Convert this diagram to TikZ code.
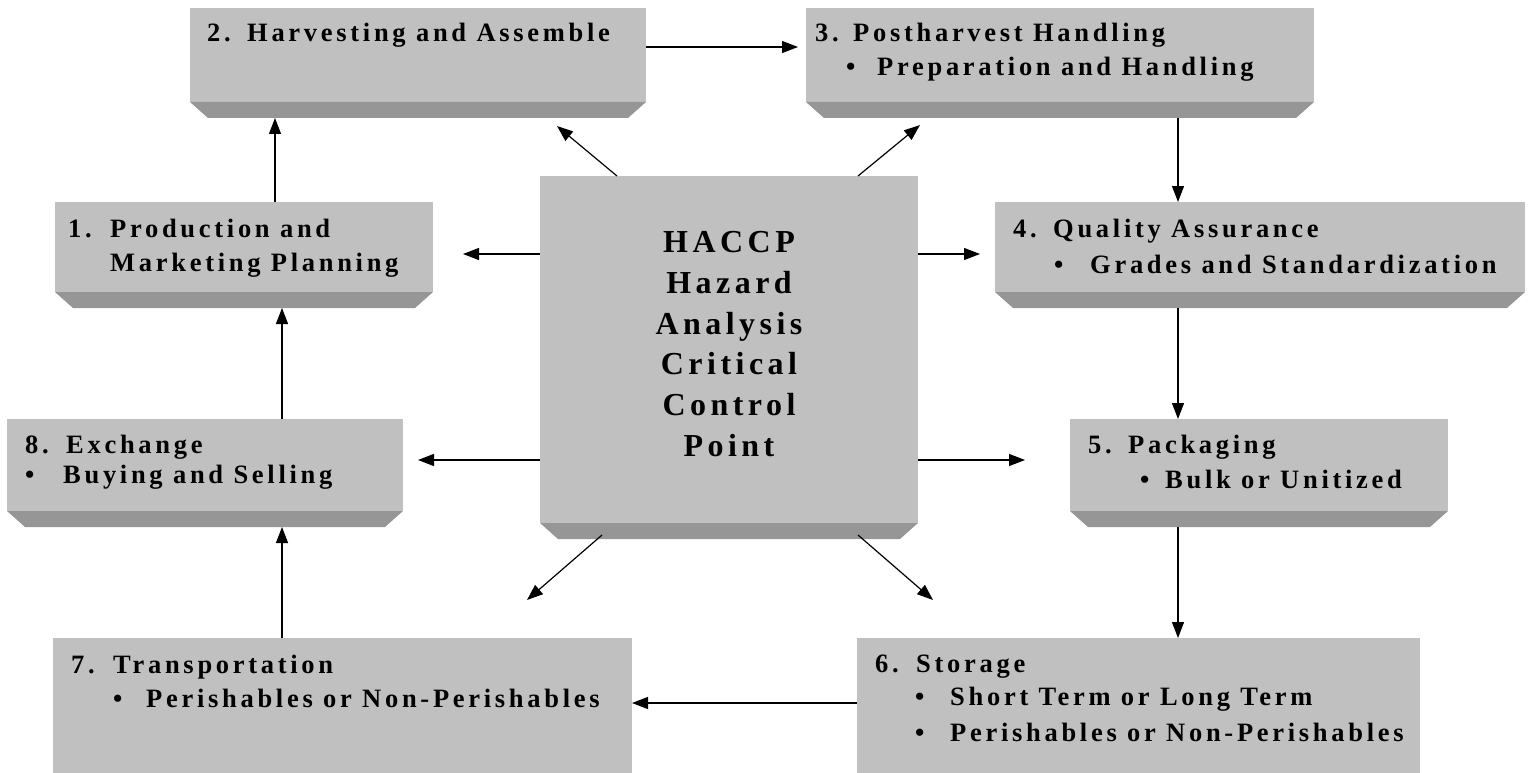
\documentclass[tikz,border=0pt]{standalone}
\usepackage{fontspec}
\setmainfont{Liberation Serif}
\newfontfamily\labelfont{Liberation Serif}[LetterSpace=14]
\usetikzlibrary{arrows.meta,calc}
\definecolor{facegray}{HTML}{C0C0C0}
\definecolor{bevelgray}{HTML}{969696}

\tikzset{
  % grey panel with a darker bevelled strip along its lower edge
  bevelpanel/.style={inner sep=0pt, outer sep=0pt, anchor=north west,
    path picture={
      \fill[facegray] (path picture bounding box.north west)
        rectangle ([yshift=16pt]path picture bounding box.south east);
      \fill[bevelgray] ([yshift=16pt]path picture bounding box.south west)
        -- ([yshift=16pt]path picture bounding box.south east)
        -- ([xshift=-18pt]path picture bounding box.south east)
        -- ([xshift=18pt]path picture bounding box.south west) -- cycle;}},
  flatpanel/.style={inner sep=0pt, outer sep=0pt, anchor=north west, fill=facegray},
  lbl/.style={anchor=base west, inner sep=0pt,
    font=\labelfont\bfseries\fontsize{26.5}{30}\selectfont},
  ctext/.style={anchor=center, inner sep=0pt, align=center,
    font=\labelfont\bfseries\fontsize{32}{40.8}\selectfont},
  arr/.style={-{Triangle[length=16pt,width=12pt]}, line width=1.2pt}
}
\newcommand{\numbox}[2]{\makebox[#1pt][l]{#2}}

\begin{document}
\begin{tikzpicture}[x=1pt,y=-1pt]
\useasboundingbox (0,0) rectangle (1531,773);

% panels
\node[bevelpanel, minimum width=456pt, minimum height=110pt] (b2) at (190,8) {};
\node[bevelpanel, minimum width=508pt, minimum height=110pt] (b3) at (806,8) {};
\node[bevelpanel, minimum width=378pt, minimum height=106pt] (b1) at (55,202) {};
\node[bevelpanel, minimum width=530pt, minimum height=106pt] (b4) at (995,202) {};
\node[bevelpanel, minimum width=378pt, minimum height=363pt] (c) at (540,176) {};
\node[bevelpanel, minimum width=396pt, minimum height=108pt] (b8) at (7,419) {};
\node[bevelpanel, minimum width=378pt, minimum height=108pt] (b5) at (1070,419) {};
\node[flatpanel, minimum width=579pt, minimum height=135pt] (b7) at (53,638) {};
\node[flatpanel, minimum width=563pt, minimum height=135pt] (b6) at (857,638) {};

% panel texts
\node[lbl] (t2a) at (207,42) {\numbox{40}{2.}Harvesting and Assemble};

\node[lbl] (t3a) at (815,42) {\numbox{38}{3.}Postharvest Handling};
\node[lbl] (t3b) at (846,76) {\numbox{31}{•}Preparation and Handling};

\node[lbl] (t1a) at (68,237) {\numbox{42}{1.}Production and};
\node[lbl] (t1b) at (110,271) {Marketing Planning};

\node[lbl] (t4a) at (1013,237) {\numbox{40}{4.}Quality Assurance};
\node[lbl] (t4b) at (1054,273) {\numbox{36}{•}Grades and Standardization};

\node[lbl] (t8a) at (25,453) {\numbox{41}{8.}Exchange};
\node[lbl] (t8b) at (25,483) {\numbox{38}{•}Buying and Selling};

\node[lbl] (t5a) at (1088,453) {\numbox{40}{5.}Packaging};
\node[lbl] (t5b) at (1140,488) {\numbox{25}{•}Bulk or Unitized};

\node[lbl] (t6a) at (875,672) {\numbox{41}{6.}Storage};
\node[lbl] (t6b) at (915,705) {\numbox{35}{•}Short Term or Long Term};
\node[lbl] (t6c) at (915,741) {\numbox{35}{•}Perishables or Non-Perishables};

\node[lbl] (t7a) at (71,673) {\numbox{42}{7.}Transportation};
\node[lbl] (t7b) at (113,707) {\numbox{33}{•}Perishables or Non-Perishables};

\node[ctext] (ct) at (729,344) {HACCP\\Hazard\\Analysis\\Critical\\Control\\Point};

% cycle of stages
\draw[arr] ($(b1.north west)+(220,0)$) -- ($(b2.south west)+(85,0)$);
\draw[arr] ($(b2.north east)+(0,39)$) -- ($(b3.north west)+(-8,39)$);
\draw[arr] ($(b3.south west)+(372,0)$) -- ($(b4.north west)+(183,0)$);
\draw[arr] ($(b4.south west)+(183,0)$) -- ($(b5.north west)+(108,0)$);
\draw[arr] ($(b5.south west)+(108,0)$) -- ($(b6.north west)+(321,0)$);
\draw[arr] ($(b6.north west)+(0,65)$) -- ($(b7.north east)+(0,65)$);
\draw[arr] ($(b7.north west)+(229,0)$) -- ($(b8.south west)+(275,0)$);
\draw[arr] ($(b8.north west)+(275,0)$) -- ($(b1.south west)+(227,0)$);

% HACCP reaching every stage
\draw[arr] ($(c.north west)+(0,78)$) -- ($(b1.north east)+(30,52)$);
\draw[arr] ($(c.north west)+(0,284)$) -- ($(b8.north east)+(15,41)$);
\draw[arr] ($(c.north east)+(0,78)$) -- ($(b4.north west)+(-15,52)$);
\draw[arr] ($(c.north east)+(0,284)$) -- ($(b5.north west)+(-45,41)$);
\draw[arr] ($(c.north west)+(77,0)$) -- ($(b2.south west)+(367,8)$);
\draw[arr] ($(c.north west)+(318,0)$) -- ($(b3.south west)+(114,7)$);
\draw[arr] ($(c.south west)+(62,-4)$) -- ($(b7.north west)+(474,-38)$);
\draw[arr] ($(c.south west)+(318,-4)$) -- ($(b6.north west)+(76,-38)$);
\end{tikzpicture}
\end{document}
